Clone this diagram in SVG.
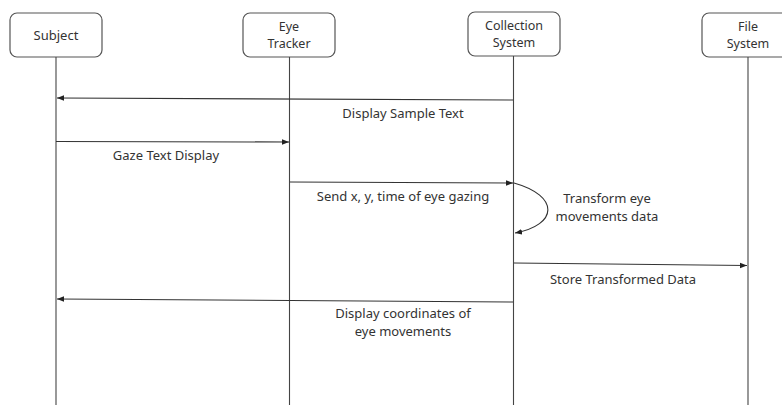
<svg xmlns="http://www.w3.org/2000/svg" width="782" height="405" viewBox="0 0 782 405">
<style>
.box{fill:#fff;stroke:#555;stroke-width:1.2}
.life{stroke:#444;stroke-width:1.1;fill:none}
.msg{stroke:#333;stroke-width:1.1;fill:none;marker-end:url(#ah)}
text{font-family:"Noto Sans","Open Sans","DejaVu Sans",sans-serif;font-size:13px;fill:#333;text-anchor:middle}
.bt{font-size:12.5px}
</style>
<defs>
<marker id="ah" viewBox="0 0 10 10" refX="10" refY="5" markerWidth="7" markerHeight="7" markerUnits="userSpaceOnUse" orient="auto">
<path d="M0,1 L10,5 L0,9 Z" fill="#222"/>
</marker>
</defs>
<g id="subject">
<rect class="box" x="10" y="13" width="92" height="44" rx="7"/>
<line class="life" x1="56" y1="57" x2="56" y2="405"/>
<text x="56" y="40">Subject</text>
</g>
<g id="eye-tracker">
<rect class="box" x="243" y="13" width="92" height="44" rx="7"/>
<line class="life" x1="289.5" y1="57" x2="289.5" y2="405"/>
<text class="bt" x="289" y="31">Eye</text>
<text class="bt" x="289" y="48.2">Tracker</text>
</g>
<g id="collection-system">
<rect class="box" x="468" y="12" width="92" height="44" rx="7"/>
<line class="life" x1="513.5" y1="56" x2="513.5" y2="405"/>
<text class="bt" x="514" y="30">Collection</text>
<text class="bt" x="514" y="47.2">System</text>
</g>
<g id="file-system">
<rect class="box" x="702" y="13" width="92" height="44" rx="7"/>
<line class="life" x1="748" y1="57" x2="748" y2="405"/>
<text class="bt" x="748" y="31">File</text>
<text class="bt" x="748" y="48.2">System</text>
</g>
<g id="connectors">
<line class="msg" x1="513" y1="100" x2="57" y2="98"/>
<line class="msg" x1="56" y1="141.5" x2="289" y2="142"/>
<line class="msg" x1="290" y1="182" x2="513" y2="183"/>
<path class="msg" d="M514,183 C560,196 558,225 515,233"/>
<line class="msg" x1="514" y1="263" x2="747" y2="265.5"/>
<line class="msg" x1="513" y1="302" x2="57" y2="299"/>
</g>
<g id="labels">
<text x="403" y="118">Display Sample Text</text>
<text x="166" y="160">Gaze Text Display</text>
<text x="403" y="201">Send x, y, time of eye gazing</text>
<text x="607" y="203">Transform eye</text>
<text x="607" y="221">movements data</text>
<text x="623" y="284">Store Transformed Data</text>
<text x="403" y="318">Display coordinates of</text>
<text x="403" y="336">eye movements</text>
</g>
</svg>
